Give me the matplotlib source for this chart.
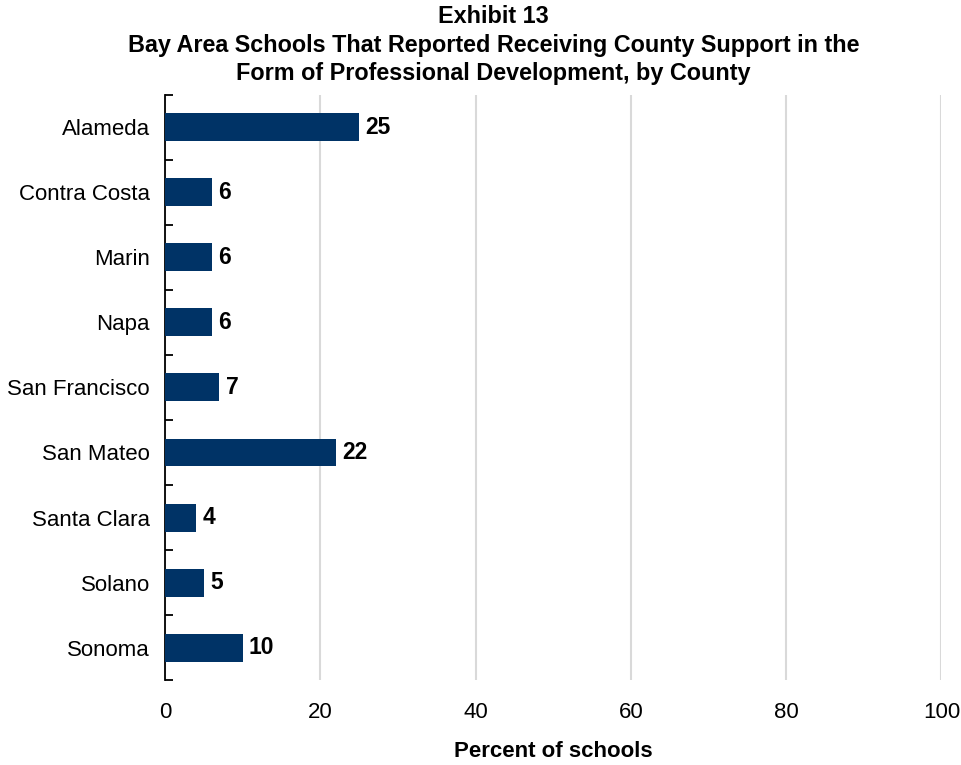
import matplotlib
matplotlib.use('Agg')
import matplotlib.pyplot as plt
import numpy as np

plt.rcParams['font.family'] = ['Liberation Sans', 'DejaVu Sans']

# Datos
counties = ['Alameda', 'Contra Costa', 'Marin', 'Napa', 'San Francisco',
            'San Mateo', 'Santa Clara', 'Solano', 'Sonoma']
values = [25, 6, 6, 6, 7, 22, 4, 5, 10]
xticks = [0, 20, 40, 60, 80, 100]

fig = plt.figure(figsize=(9.61, 7.65), dpi=100)
ax = fig.add_axes([0.1717, 0.111, 0.808, 0.765])

y = np.arange(len(counties))
ax.barh(y, values, height=0.43, color='#003366', zorder=3)

for yi, v in zip(y, values):
    ax.text(v + 0.8, yi, f'{v}', va='center', ha='left',
            fontsize=16.5, fontweight='bold', color='black')

ax.set_ylim(len(counties) - 0.5, -0.5)
ax.set_xlim(0, 100)
ax.set_yticks(y)
ax.set_yticklabels(counties, fontsize=16)
ax.tick_params(axis='y', length=0, pad=11)
# marcas entre categorias
ax.set_yticks(np.arange(-0.5, len(counties), 1), minor=True)
ax.tick_params(axis='y', which='minor', direction='in', length=6, width=1.3)

ax.set_xticks(xticks)
ax.set_xticklabels([str(t) for t in xticks], fontsize=16)
ax.tick_params(axis='x', length=0, pad=16)
ax.xaxis.grid(True, color='#d9d9d9', linewidth=1.5, zorder=0)

for s in ['top', 'right', 'bottom']:
    ax.spines[s].set_visible(False)
ax.spines['left'].set_linewidth(1.3)

ax.set_xlabel('Percent of schools', fontsize=16, fontweight='bold', labelpad=13)

fig.text(0.5135, 0.993, 'Exhibit 13\nBay Area Schools That Reported Receiving County Support in the\nForm of Professional Development, by County',
         ha='center', va='top', fontsize=16.8, fontweight='bold', linespacing=1.3)

fig.savefig('out.png', dpi=100)
